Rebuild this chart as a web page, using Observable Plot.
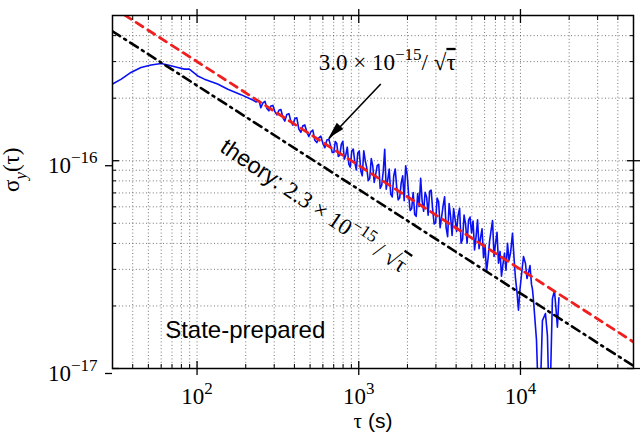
<!DOCTYPE html>
<html>
<head>
<meta charset="utf-8">
<script src="https://cdn.jsdelivr.net/npm/d3@7"></script>
<script src="https://cdn.jsdelivr.net/npm/@observablehq/plot@0.6"></script>
<style>
  body { margin: 0; background: #fff; }
  svg { display: block; }
</style>
</head>
<body>
<div id="chart"></div>
<script>
// Averaging times τ (s) of the measured Allan deviation
const tau = [
  30, 34, 39, 45, 52, 60, 66, 76, 83.5, 89.6, 101, 111, 134, 155, 187, 221, 231, 242, 248,
  255.5, 263, 270.5, 278, 286, 294.5, 303, 312, 321, 330, 340, 349, 359, 370, 380, 391, 403, 414,
  426, 438.5, 451, 464, 478, 491, 506, 520, 535, 550.5, 566, 583, 600, 617, 635, 653, 672, 686,
  701, 716, 731, 747, 763, 780, 797, 814, 831, 849, 868, 886, 905, 925, 945, 965, 986, 1007,
  1029, 1051, 1074, 1097, 1120, 1145, 1169, 1195, 1220, 1246, 1273, 1301, 1329, 1357, 1387, 1417,
  1447, 1478, 1510, 1543, 1576, 1610, 1645, 1680, 1716, 1753, 1791, 1830, 1869, 1910, 1950, 1993,
  2036, 2079, 2125, 2170, 2217, 2265, 2313, 2363, 2414, 2466, 2519, 2573, 2629, 2685, 2744, 2803,
  2863, 2925, 2988, 3052, 3118, 3185, 3254, 3324, 3396, 3469, 3544, 3621, 3698, 3777, 3859, 3942,
  4027, 4114, 4203, 4293, 4385, 4480, 4576, 4675, 4775, 4879, 4983, 5091, 5201, 5313, 5428, 5545,
  5664, 5786, 5910, 6038, 6168, 6301, 6437, 6577, 6718, 6863, 7010, 7161, 7315, 7473, 7633, 7798,
  7965, 8138, 8314, 8492, 8676, 8800, 8926, 9119, 9313, 9517, 9721, 9931, 10140, 10440, 10740,
  10970, 11210, 11450, 11700, 11860, 12030, 12560, 12910, 13290, 13670, 14270, 14680, 14990,
  15320, 15760, 16220, 16560, 16920, 17290
];
// Measured Allan deviation σ_y(τ), state-prepared operation
const sigma = [
  2.34e-16, 2.47e-16, 2.66e-16, 2.81e-16, 2.89e-16, 2.94e-16, 2.89e-16, 2.81e-16, 2.76e-16, 2.76e-16,
  2.56e-16, 2.47e-16, 2.34e-16, 2.21e-16, 2.08e-16, 1.96e-16, 1.92e-16, 1.94e-16, 1.80e-16,
  1.897e-16, 1.933e-16, 1.783e-16, 1.739e-16, 1.832e-16, 1.846e-16, 1.722e-16, 1.661e-16, 1.750e-16,
  1.764e-16, 1.609e-16, 1.552e-16, 1.671e-16, 1.685e-16, 1.554e-16, 1.482e-16, 1.597e-16, 1.609e-16,
  1.420e-16, 1.369e-16, 1.475e-16, 1.487e-16, 1.372e-16, 1.308e-16, 1.379e-16, 1.405e-16, 1.254e-16,
  1.223e-16, 1.288e-16, 1.313e-16, 1.211e-16, 1.155e-16, 1.258e-16, 1.268e-16, 1.169e-16, 1.095e-16,
  1.095e-16, 1.238e-16, 1.211e-16, 1.049e-16, 1.061e-16, 1.199e-16, 1.240e-16, 1.017e-16, 1.063e-16,
  1.162e-16, 0.963e-16, 0.932e-16, 1.113e-16, 1.138e-16, 0.986e-16, 0.903e-16, 1.090e-16, 1.115e-16,
  0.894e-16, 0.846e-16, 1.117e-16, 1.000e-16, 0.926e-16, 0.802e-16, 0.820e-16, 1.024e-16, 0.948e-16,
  0.786e-16, 0.859e-16, 0.949e-16, 0.960e-16, 0.736e-16, 0.762e-16, 0.890e-16,
  1.136e-16, 0.730e-16, 0.806e-16, 0.911e-16, 0.691e-16, 0.669e-16, 0.844e-16, 0.913e-16, 0.748e-16,
  0.648e-16, 0.663e-16, 0.783e-16, 0.846e-16, 0.642e-16, 0.946e-16, 0.857e-16,
  0.679e-16, 0.576e-16, 0.589e-16, 0.703e-16, 0.551e-16, 0.540e-16, 0.696e-16, 0.603e-16, 0.823e-16,
  0.638e-16, 0.571e-16, 0.705e-16, 0.668e-16, 0.547e-16, 0.714e-16, 0.722e-16,
  0.585e-16, 0.496e-16, 0.502e-16, 0.662e-16, 0.634e-16, 0.476e-16, 0.537e-16, 0.607e-16, 0.671e-16,
  0.476e-16, 0.431e-16, 0.622e-16, 0.538e-16, 0.437e-16, 0.589e-16, 0.522e-16,
  0.457e-16, 0.546e-16, 0.590e-16, 0.401e-16, 0.419e-16, 0.547e-16, 0.495e-16, 0.401e-16, 0.518e-16,
  0.536e-16, 0.449e-16, 0.513e-16, 0.372e-16, 0.430e-16, 0.519e-16, 0.377e-16,
  0.426e-16, 0.470e-16, 0.341e-16, 0.394e-16, 0.292e-16, 0.338e-16, 0.408e-16, 0.461e-16, 0.515e-16,
  0.346e-16, 0.400e-16, 0.452e-16, 0.321e-16, 0.366e-16, 0.278e-16, 0.318e-16,
  0.359e-16, 0.297e-16, 0.401e-16, 0.332e-16, 0.359e-16, 0.399e-16, 0.447e-16, 0.343e-16, 0.272e-16,
  0.233e-16, 0.191e-16, 0.241e-16, 0.281e-16, 0.346e-16, 0.320e-16,
  0.271e-16, 0.289e-16, 0.313e-16, 0.254e-16, 0.241e-16, 0.214e-16, 0.1376e-16, 0.070e-16, 0.080e-16,
  0.170e-16, 0.184e-16, 0.144e-16, 0.075e-16,
  0.085e-16, 0.217e-16, 0.237e-16, 0.197e-16, 0.158e-16, 0.219e-16
];

// White-frequency-noise levels, σ = coef / √τ
const fitCoef = 3.0e-15;
const theoryCoef = 2.3e-15;

// Axis ranges and ticks
const tauRange = [30, 50000];
const sigmaRange = [1e-17, 5e-16];
const xMajor = [100, 1000, 10000];
const xMinor = [40, 50, 60, 70, 80, 90, 200, 300, 400, 500, 600, 700, 800, 900,
                2000, 3000, 4000, 5000, 6000, 7000, 8000, 9000, 20000, 30000, 40000];
const yMajor = [1e-17, 1e-16];
const yMinor = [2e-17, 3e-17, 4e-17, 5e-17, 6e-17, 7e-17, 8e-17, 9e-17, 2e-16, 3e-16, 4e-16];

// Annotation anchors (τ, σ)
const fitLabelAt = [566, 2.97e-16];
const arrowFrom = [1368, 2.34e-16];
const arrowTo = [653, 1.276e-16];
const theoryLabelAt = [527, 6.07e-17];
const stateLabelAt = [63.5, 1.535e-17];
const stateLabel = "State-prepared";

const SERIF = "'Liberation Serif', 'Times New Roman', serif";
const SANS = "'Liberation Sans', Arial, Helvetica, sans-serif";

const measured = tau.map((t, i) => ({tau: t, sigma: sigma[i]}));
const fitLine = tauRange.map(t => ({tau: t, sigma: fitCoef / Math.sqrt(t)}));
const theoryLine = tauRange.map(t => ({tau: t, sigma: theoryCoef / Math.sqrt(t)}));

const gridStyle = {stroke: "#333", strokeOpacity: 0.75, strokeWidth: 0.9, strokeDasharray: "1,2.4"};
const powerLabel = d => `10^{${Math.round(Math.log10(d))}}`;

const plot = Plot.plot({
  width: 640,
  height: 435,
  marginLeft: 112,
  marginRight: 7,
  marginTop: 15,
  marginBottom: 67,
  style: {background: "white", overflow: "visible", color: "black"},
  x: {type: "log", domain: tauRange},
  y: {type: "log", domain: sigmaRange},
  marks: [
    Plot.gridX([...xMinor, ...xMajor], gridStyle),
    Plot.gridY([...yMinor, ...yMajor], gridStyle),
    Plot.line(measured, {x: "tau", y: "sigma", stroke: "#0a10f5", strokeWidth: 1.6, clip: true}),
    Plot.line(theoryLine, {x: "tau", y: "sigma", stroke: "black", strokeWidth: 2.6,
      strokeDasharray: "9,5,2,5", clip: true}),
    Plot.line(fitLine, {x: "tau", y: "sigma", stroke: "#f01e1e", strokeWidth: 2.8,
      strokeDasharray: "8,6", clip: true}),
    Plot.link([{x1: arrowFrom[0], y1: arrowFrom[1], x2: arrowTo[0], y2: arrowTo[1]}],
      {x1: "x1", y1: "y1", x2: "x2", y2: "y2", stroke: "black", strokeWidth: 1.6}),
    Plot.text(["@fit"], {x: () => fitLabelAt[0], y: () => fitLabelAt[1], text: d => d,
      textAnchor: "start", fontFamily: SERIF, fontSize: 23, fill: "black"}),
    Plot.text(["@theory"], {x: () => theoryLabelAt[0], y: () => theoryLabelAt[1], text: d => d,
      rotate: 34, fontFamily: SERIF, fontSize: 23, fill: "black"}),
    Plot.text([stateLabel], {x: () => stateLabelAt[0], y: () => stateLabelAt[1], text: d => d,
      textAnchor: "start", fontFamily: SANS, fontSize: 24, fill: "black"}),
    Plot.text(["@xlabel"], {frameAnchor: "bottom", dy: 59, text: d => d,
      fontFamily: SERIF, fontSize: 21, fill: "black"}),
    Plot.text(["@ylabel"], {frameAnchor: "left", dx: -101, rotate: -90, text: d => d,
      fontFamily: SERIF, fontSize: 23, fill: "black"}),
    Plot.frame({stroke: "black", strokeWidth: 1.5}),
    // bottom axis
    Plot.axisX(xMajor, {anchor: "bottom", tickSize: 7, tickPadding: 12, tickFormat: powerLabel,
      fontFamily: SERIF, fontSize: 23, label: null, strokeWidth: 1.3}),
    Plot.axisX(xMajor, {anchor: "bottom", tickSize: -7, fill: "none", strokeWidth: 1.3}),
    Plot.axisX(xMinor, {anchor: "bottom", tickSize: -4, fill: "none"}),
    // top axis
    Plot.axisX(xMajor, {anchor: "top", tickSize: 7, fill: "none", strokeWidth: 1.3}),
    Plot.axisX(xMajor, {anchor: "top", tickSize: -7, fill: "none", strokeWidth: 1.3}),
    Plot.axisX(xMinor, {anchor: "top", tickSize: -4, fill: "none"}),
    // left axis
    Plot.axisY(yMajor, {anchor: "left", tickSize: 7, tickPadding: 8, tickFormat: powerLabel,
      fontFamily: SERIF, fontSize: 23, dy: 5, label: null, strokeWidth: 1.3}),
    Plot.axisY(yMajor, {anchor: "left", tickSize: -7, fill: "none", strokeWidth: 1.3}),
    Plot.axisY(yMinor, {anchor: "left", tickSize: -4, fill: "none"}),
    // right axis
    Plot.axisY(yMajor, {anchor: "right", tickSize: 7, fill: "none", strokeWidth: 1.3}),
    Plot.axisY(yMajor, {anchor: "right", tickSize: -7, fill: "none", strokeWidth: 1.3}),
    Plot.axisY(yMinor, {anchor: "right", tickSize: -4, fill: "none"})
  ]
});

// Rich text: superscripts, subscripts, overlined radicands and mixed fonts
const richTexts = {
  "@fit": {size: 23, segs: [{t: "3.0 × 10"}, {t: "−15", sup: true}, {t: "/ √"}, {t: "τ", over: true}]},
  "@theory": {size: 23, segs: [{t: "theory: ", family: SANS}, {t: "2.3 × 10"}, {t: "−15", sup: true},
    {t: " / √"}, {t: "τ", over: true}]},
  "@xlabel": {size: 21, segs: [{t: "τ"}, {t: " (s)", family: SANS}]},
  "@ylabel": {size: 23, segs: [{t: "σ"}, {t: "y", sub: true, italic: true}, {t: "(τ)"}]}
};

const NS = "http://www.w3.org/2000/svg";
function renderRich(el, size, segs) {
  el.textContent = "";
  el.setAttribute("font-family", SERIF);
  let shift = 0;
  for (const s of segs) {
    const ts = document.createElementNS(NS, "tspan");
    const target = s.sup ? -0.42 * size : s.sub ? 0.3 * size : 0;
    if (target !== shift) { ts.setAttribute("dy", target - shift); shift = target; }
    if (s.sup || s.sub) ts.setAttribute("font-size", Math.round(size * 0.72));
    if (s.family) ts.setAttribute("font-family", s.family);
    if (s.italic) ts.setAttribute("font-style", "italic");
    if (s.over) ts.setAttribute("text-decoration", "overline");
    ts.textContent = s.t;
    el.appendChild(ts);
  }
}

for (const el of plot.querySelectorAll("text")) {
  const str = el.textContent;
  if (richTexts[str]) {
    renderRich(el, richTexts[str].size, richTexts[str].segs);
  } else {
    const m = /^10\^\{(.+)\}$/.exec(str);
    if (m) renderRich(el, 23, [{t: "10"}, {t: m[1].replace("-", "−"), sup: true}]);
  }
}

// Filled arrowhead at the tip of the annotation arrow
const sx = plot.scale("x"), sy = plot.scale("y");
const x0 = sx.apply(arrowFrom[0]), y0 = sy.apply(arrowFrom[1]);
const x1 = sx.apply(arrowTo[0]), y1 = sy.apply(arrowTo[1]);
const ang = Math.atan2(y1 - y0, x1 - x0);
const headL = 17, headW = 4.5;
const bx = x1 - headL * Math.cos(ang), by = y1 - headL * Math.sin(ang);
const nx = -Math.sin(ang), ny = Math.cos(ang);
d3.select(plot).append("polygon")
  .attr("points", [[x1, y1], [bx + headW * nx, by + headW * ny], [bx - headW * nx, by - headW * ny]].map(p => p.join(",")).join(" "))
  .attr("fill", "black");

document.getElementById("chart").appendChild(plot);
</script>
</body>
</html>
